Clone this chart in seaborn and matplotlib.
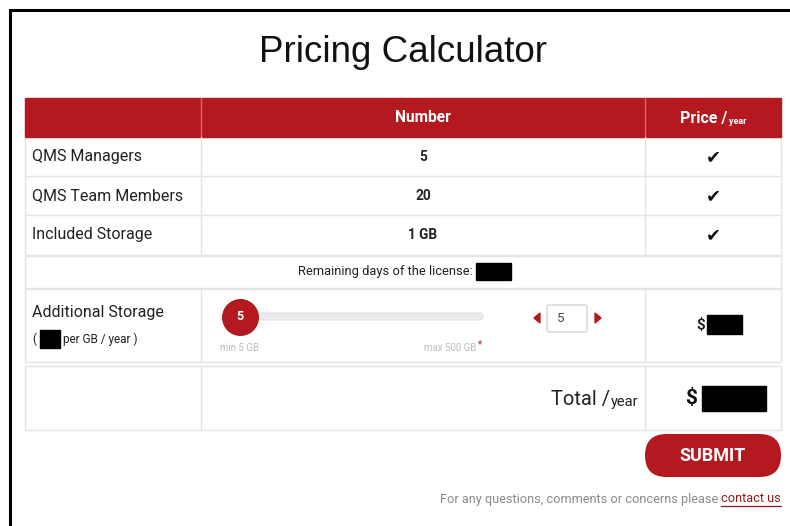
import matplotlib
matplotlib.use("Agg")
import matplotlib.pyplot as plt
from matplotlib.patches import Rectangle, Polygon, FancyBboxPatch
import seaborn as sns
import pandas as pd

# ---------------- data / texts ----------------
title = "Pricing Calculator"
col_headers = ["", "Number", "Price /"]
header_suffix = "year"
row_labels = ["QMS Managers", "QMS Team Members", "Included Storage"]
row_numbers = ["5", "20", "1 GB"]
row_prices = ["\u2714", "\u2714", "\u2714"]
remaining_label = "Remaining days of the license:"
storage_label = "Additional Storage"
storage_sub = ["(", "per GB / year )"]
slider_value = [5]
slider_min = 5
slider_max = 500
slider_min_label = "min 5 GB"
slider_max_label = "max 500 GB"
total_label = "Total /"
total_suffix = "year"
submit_label = "SUBMIT"
footer_text = "For any questions, comments or concerns please"
footer_link = "contact us"

# ---------------- style ----------------
sns.set_theme(style="white")
plt.rcParams["font.family"] = ["Roboto", "DejaVu Sans"]

RED = "#b3191e"
LINE = "#e4e4e4"
W, H = 790, 526
PT = 0.72  # px -> pt at 100 dpi

fig = plt.figure(figsize=(7.9, 5.26), dpi=100)
fig.patch.set_facecolor("white")
ax = fig.add_axes([0, 0, 1, 1])

# slider knob drawn with seaborn
x0, x1, x2, x3 = 25, 201, 645, 781
track_l, track_r = 240, 483
knob_df = pd.DataFrame({
    "x": [track_l + (v - slider_min) / (slider_max - slider_min) * (track_r - track_l) for v in slider_value],
    "y": [317] * len(slider_value),
})
sns.scatterplot(data=knob_df, x="x", y="y", s=(36 * PT) ** 2, color=RED,
                edgecolor="#9a1515", linewidth=0.6, zorder=5, ax=ax, legend=False)

ax.set_xlim(0, W)
ax.set_ylim(H, 0)
ax.axis("off")

renderer = fig.canvas.get_renderer()


def width_px(t):
    bb = t.get_window_extent(renderer=renderer)
    return bb.width


def box(xa, ya, xb, yb, fc="none", ec=LINE, lw=1.0, z=1):
    ax.add_patch(Rectangle((xa, ya), xb - xa, yb - ya, facecolor=fc, edgecolor=ec, lw=lw, zorder=z))


def vline(x, ya, yb, c=LINE):
    ax.plot([x, x], [ya, yb], color=c, lw=1.0, zorder=2)


def hline(y, xa, xb, c=LINE):
    ax.plot([xa, xb], [y, y], color=c, lw=1.0, zorder=2)


# outer frame
ax.plot([9.5, 9.5, W + 5], [H + 5, 9.5, 9.5], color="black", lw=2.2, zorder=10, solid_joinstyle="miter")

# title
ax.text(403, 53, title, ha="center", va="center", fontsize=26.5,
        family=["Liberation Sans", "DejaVu Sans"], color="#111111")

# header
box(x0, 98, x3, 137, fc=RED, ec=RED, z=2)
vline(x1, 98, 137, c="#d46a6a")
vline(x2, 98, 137, c="#d46a6a")
ax.text((x1 + x2) / 2, 118, col_headers[1], ha="center", va="center", color="white",
        fontsize=11.2, fontweight="bold", zorder=3)
t1 = ax.text(0, 118, col_headers[2], ha="left", va="center", color="white",
             fontsize=11.5, fontweight="bold", zorder=3)
t2 = ax.text(0, 121, header_suffix, ha="left", va="center", color="white",
             fontsize=6.5, fontweight="bold", zorder=3)
w1, w2 = width_px(t1), width_px(t2)
start = (x2 + x3) / 2 - (w1 + w2 + 2) / 2
t1.set_x(start)
t2.set_x(start + w1 + 2)

# body rows
row_tops = [137, 176, 215]
row_h = 39.5
box(x0, 137, x3, 255)
for i, (lab, num, pr) in enumerate(zip(row_labels, row_numbers, row_prices)):
    yt = row_tops[i]
    yc = yt + row_h / 2
    if i > 0:
        hline(yt, x0, x3)
    ax.text(32, yc, lab, ha="left", va="center", fontsize=11.5, color="#222222")
    ax.text((x1 + x2) / 2, yc, num, ha="center", va="center", fontsize=9.8,
            fontweight="bold", color="#222222")
    ax.text((x2 + x3) / 2, yc, pr, ha="center", va="center", fontsize=13,
            family=["DejaVu Sans"], color="#111111")
vline(x1, 137, 255)
vline(x2, 137, 255)

# remaining days row
box(x0, 256, x3, 288)
ax.text(473, 271, remaining_label, ha="right", va="center", fontsize=9.3, color="#222222")
box(476, 263, 511, 280, fc="black", ec="black", z=3)

# additional storage row
box(x0, 289, x3, 362)
vline(x1, 289, 362)
vline(x2, 289, 362)
ax.text(32, 312, storage_label, ha="left", va="center", fontsize=11.5, color="#222222")
ax.text(32, 339, storage_sub[0], ha="left", va="center", fontsize=8.5, color="#222222")
box(40, 330, 60, 348, fc="black", ec="black", z=3)
ax.text(63, 339, storage_sub[1], ha="left", va="center", fontsize=8.5, color="#222222")

# slider track
ax.add_patch(FancyBboxPatch((track_l, 313), track_r - track_l, 7,
                            boxstyle="round,pad=0,rounding_size=3", facecolor="#ebebeb",
                            edgecolor="#e2e2e2", lw=0.8, zorder=3))
ax.text(knob_df["x"][0], 317, str(slider_value[0]), ha="center", va="center", color="white",
        fontsize=9, fontweight="bold", zorder=6)
ax.text(220, 348, slider_min_label, ha="left", va="center", fontsize=7, color="#bdbdbd")
ax.text(476, 348, slider_max_label, ha="right", va="center", fontsize=7, color="#bdbdbd")
ax.text(478, 344, "*", ha="left", va="center", fontsize=7, color=RED)

# stepper
ax.add_patch(Polygon([[540, 313], [540, 323], [534, 318]], closed=True, color=RED, zorder=3))
ax.add_patch(Polygon([[595, 313], [595, 323], [601, 318]], closed=True, color=RED, zorder=3))
ax.add_patch(FancyBboxPatch((547, 305), 40, 27, boxstyle="round,pad=0,rounding_size=2",
                            facecolor="white", edgecolor="#cfcfcf", lw=0.9, zorder=3))
ax.text(561, 318.5, str(slider_value[0]), ha="center", va="center", fontsize=9.5, color="#444444", zorder=4)

# price cell
ax.text(705, 325, "$", ha="right", va="center", fontsize=11, fontweight="bold", color="#222222")
box(707, 315, 742, 334, fc="black", ec="black", z=3)

# total row
box(x0, 366, x3, 430)
vline(x1, 366, 430)
vline(x2, 366, 430)
ts = ax.text(638, 402, total_suffix, ha="right", va="center", fontsize=10.5, color="#222222")
ax.text(638 - width_px(ts), 399, total_label, ha="right", va="center", fontsize=14.5, color="#222222")
ax.text(697, 399, "$", ha="right", va="center", fontsize=15, fontweight="bold", color="#111111")
box(702, 386, 766, 411, fc="black", ec="black", z=3)

# submit button
ax.add_patch(FancyBboxPatch((645, 434), 136, 43, boxstyle="round,pad=0,rounding_size=21.5",
                            facecolor=RED, edgecolor=RED, lw=0, zorder=3))
ax.text(713, 456, submit_label, ha="center", va="center", color="white", fontsize=13,
        fontweight="bold", zorder=4)

# footer
tl = ax.text(781, 499, footer_link, ha="right", va="center", fontsize=9.2, color="#8e1b1b")
wl = width_px(tl)
ax.plot([781 - wl, 781], [506, 506], color="#8e1b1b", lw=0.9)
ax.text(781 - wl - 3, 499, footer_text, ha="right", va="center", fontsize=9.2, color="#8a8a8a")

fig.savefig("out.png", dpi=100, facecolor="white")
